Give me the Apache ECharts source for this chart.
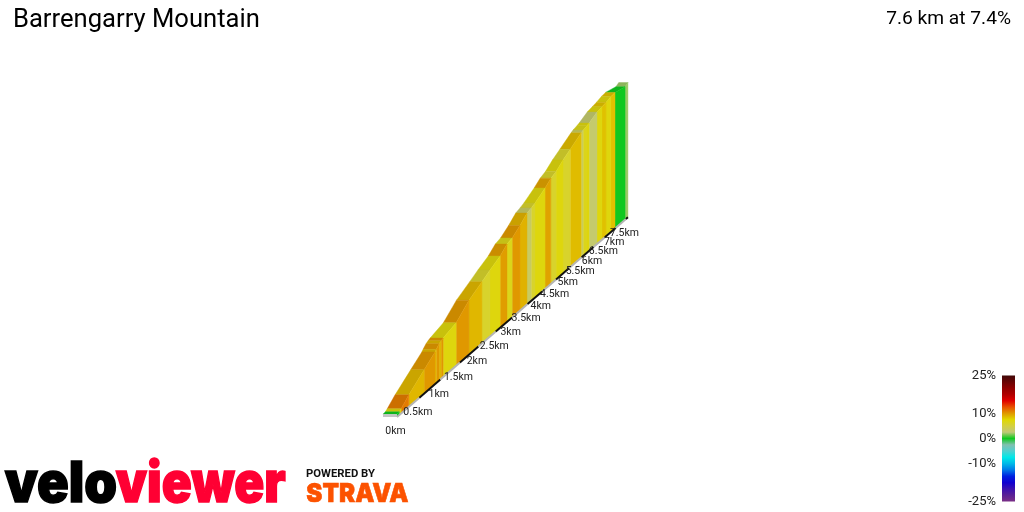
<!DOCTYPE html>
<html>
<head>
    <meta charset="UTF-8">
    <title>Barrengarry Mountain</title>
    <script src="https://cdn.jsdelivr.net/npm/echarts/dist/echarts.min.js"></script>
    <style>
        html, body { margin: 0; padding: 0; background: #fff; }
        #chart { width: 1024px; height: 512px; }
    </style>
</head>
<body>
    <div id="chart"></div>
    <script>
        // segment boundaries along the climb, km
        const boundaryKm = [0, 0.05, 0.09, 0.26, 0.61, 0.87, 0.9, 0.97, 1.02, 1.07, 1.4, 1.74, 2.1, 2.33, 2.63, 2.84, 3.0,
            3.25, 3.48, 3.62, 3.75, 4.1, 4.31, 4.5, 4.76, 5.04, 5.48, 5.56, 5.72, 5.81, 6.15, 6.37, 6.55, 6.78, 6.97, 7.46, 7.6];
        // elevation gain at each boundary, m
        const elevation = [0, 1, 5, 26, 61, 87, 92, 102, 106, 109, 124, 163, 190, 208, 229, 252, 260,
            283, 309, 317, 325, 354, 375, 387, 413, 436, 473, 479, 487, 492, 517, 527, 535, 548, 555, 555, 566];
        // gradient of each segment, %
        const grade = [0, 7, 11, 8.8, 10, 8.8, 10, 8.8, 10, 7, 10, 8.8, 5.8, 7, 9.8, 6.5,
            10, 9, 3.5, 5.8, 7, 9.6, 5.8, 7, 5.8, 8.6, 3.8, 6.5, 7, 3, 7, 8.4, 7, 8.4, 0, 2];

        const tickKm = [0, 0.5, 1, 1.5, 2, 2.5, 3, 3.5, 4, 4.5, 5, 5.5, 6, 6.5, 7, 7.5];
        const tickLabels = ['0km', '0.5km', '1km', '1.5km', '2km', '2.5km', '3km', '3.5km', '4km', '4.5km', '5km', '5.5km', '6km', '6.5km', '7km', '7.5km'];

        const legendTicks = [-25, -10, 0, 10, 25];
        const legendColors = ['#7a2f86', '#5a2095', '#3a10b0', '#1000d0', '#0020e0', '#0078e8', '#00b8e8', '#00e8e8', '#50d0d0', '#80c0b0', '#10c820',
            '#c0c878', '#d4d040', '#e0d800', '#e09800', '#e85000', '#e00000', '#b00000', '#900000', '#680404', '#400808'];

        const climbTitle = 'Barrengarry Mountain';
        const climbSummary = '7.6 km at 7.4%';

        const gridLeft = 397, gridTop = 213, gridWidth = 231, gridHeight = 204;
        const groundY = gridTop + gridHeight;

        // flat grid pixel -> perspective pixel, the wall runs away from the viewer
        function project(p) {
            const t = p[0] - gridLeft;
            const s = 1 / (1 + 0.00227 * t);
            return {
                x: gridLeft + 1.524 * t * s,
                y: groundY - 1.318 * t * s - (groundY - p[1]) * s,
                s: s
            };
        }

        function darken(color, f) {
            const c = echarts.color.parse(color);
            return 'rgb(' + Math.round(c[0] * f) + ',' + Math.round(c[1] * f) + ',' + Math.round(c[2] * f) + ')';
        }

        // far end first so nearer segments paint over it
        const segments = grade.map((g, i) => [boundaryKm[i], boundaryKm[i + 1], elevation[i], elevation[i + 1], g]).reverse();
        const roadParts = tickKm.map((km, i) => [km, i + 1 < tickKm.length ? tickKm[i + 1] : 7.6, i % 2]);

        function renderSegment(params, api) {
            const floor = -8;
            const a = project(api.coord([api.value(0), floor]));
            const b = project(api.coord([api.value(1), floor]));
            const c = project(api.coord([api.value(1), api.value(3)]));
            const d = project(api.coord([api.value(0), api.value(2)]));
            const color = api.visual('color');
            const topColor = darken(color, 0.9);
            const children = [{
                type: 'polygon',
                shape: { points: [[d.x - 14 * d.s, d.y], [c.x - 14 * c.s, c.y], [c.x, c.y], [d.x, d.y]] },
                style: { fill: topColor, stroke: topColor, lineWidth: 0.4 }
            }, {
                type: 'polygon',
                shape: { points: [[a.x, a.y], [b.x, b.y], [c.x, c.y], [d.x, d.y]] },
                style: { fill: color, stroke: color, lineWidth: 0.4 }
            }];
            if (api.value(0) === 0) {
                // grey end of the plinth under the start of the wall
                children.push({
                    type: 'polygon',
                    shape: { points: [[a.x - 14, d.y], [a.x, d.y], [a.x, a.y], [a.x - 14, a.y]] },
                    style: { fill: '#c4c4c4' }
                });
            }
            return { type: 'group', children: children };
        }

        function renderRoad(params, api) {
            const a = project(api.coord([api.value(0), -8]));
            const b = project(api.coord([api.value(1), -8]));
            return {
                type: 'line',
                shape: { x1: a.x, y1: a.y, x2: b.x, y2: b.y },
                style: { stroke: api.value(2) ? '#111' : '#b4b4b4', lineWidth: 2 }
            };
        }

        function renderTick(params, api) {
            const a = project(api.coord([api.value(0), -8]));
            return {
                type: 'text',
                style: {
                    x: a.x - 1.5,
                    y: a.y + 14.5,
                    text: tickLabels[params.dataIndex],
                    align: 'center',
                    verticalAlign: 'middle',
                    font: '10.5px Roboto',
                    fill: '#222'
                }
            };
        }

        // colour bar: same stops as the wall, square corners
        function renderLegendBar(params, api) {
            const top = api.coord([0, api.value(1)]);
            const bottom = api.coord([1, api.value(0)]);
            const last = legendColors.length - 1;
            return {
                type: 'rect',
                shape: { x: top[0], y: top[1], width: bottom[0] - top[0], height: bottom[1] - top[1] },
                style: {
                    fill: new echarts.graphic.LinearGradient(0, 1, 0, 0,
                        legendColors.map((c, i) => ({ offset: i / last, color: c })))
                }
            };
        }

        const chart = echarts.init(document.getElementById('chart'));
        chart.setOption({
            animation: false,
            backgroundColor: '#fff',
            title: [
                { text: climbTitle, left: 13, top: 8, padding: 0, textStyle: { fontFamily: 'Roboto', fontSize: 25.6, fontWeight: 'normal', color: '#000' } },
                { text: climbSummary, right: 13, top: 10, padding: 0, textStyle: { fontFamily: 'Roboto', fontSize: 19.2, fontWeight: 'normal', color: '#000' } }
            ],
            grid: [
                { left: gridLeft, top: gridTop, width: gridWidth, height: gridHeight },
                { left: 1002, top: 375.5, width: 13, height: 126 }
            ],
            xAxis: [
                { type: 'value', min: 0, max: 7.6, show: false },
                { type: 'value', gridIndex: 1, min: 0, max: 1, show: false }
            ],
            yAxis: [
                { type: 'value', min: -8, max: 562, show: false },
                {
                    type: 'value',
                    gridIndex: 1,
                    min: -25,
                    max: 25,
                    axisLine: { show: false },
                    axisTick: { show: false },
                    splitLine: { show: false },
                    axisLabel: {
                        customValues: legendTicks,
                        formatter: '{value}%',
                        margin: 6,
                        fontFamily: 'Roboto',
                        fontSize: 13,
                        color: '#222'
                    }
                }
            ],
            visualMap: {
                type: 'continuous',
                show: false,
                seriesIndex: 0,
                dimension: 4,
                min: -25,
                max: 25,
                inRange: { color: legendColors }
            },
            series: [
                { type: 'custom', coordinateSystem: 'cartesian2d', data: segments, renderItem: renderSegment, silent: true, z: 3 },
                { type: 'custom', coordinateSystem: 'cartesian2d', data: roadParts, renderItem: renderRoad, silent: true, z: 4 },
                { type: 'custom', coordinateSystem: 'cartesian2d', data: tickKm.map(km => [km]), renderItem: renderTick, silent: true, z: 5 },
                { type: 'custom', coordinateSystem: 'cartesian2d', xAxisIndex: 1, yAxisIndex: 1, data: [[legendTicks[0], legendTicks[4]]], renderItem: renderLegendBar, silent: true }
            ],
            graphic: [
                { type: 'text', left: 4, top: 456, scaleX: 0.937, style: { text: 'velo', font: '900 56px Inter', fill: '#000', stroke: '#000', lineWidth: 1.5 } },
                { type: 'text', left: 115, top: 456, scaleX: 0.885, style: { text: 'viewer', font: '900 56px Inter', fill: '#ff0033', stroke: '#ff0033', lineWidth: 1.5 } },
                { type: 'text', left: 306, top: 469, scaleX: 1.13, style: { text: 'POWERED BY', font: '700 10px Roboto', fill: '#111' } },
                { type: 'text', left: 306, top: 481, scaleX: 0.93, style: { text: 'STRAVA', font: '900 26px Inter', fill: '#fc5200', stroke: '#fc5200', lineWidth: 0.6 } }
            ]
        });
    </script>
</body>
</html>
